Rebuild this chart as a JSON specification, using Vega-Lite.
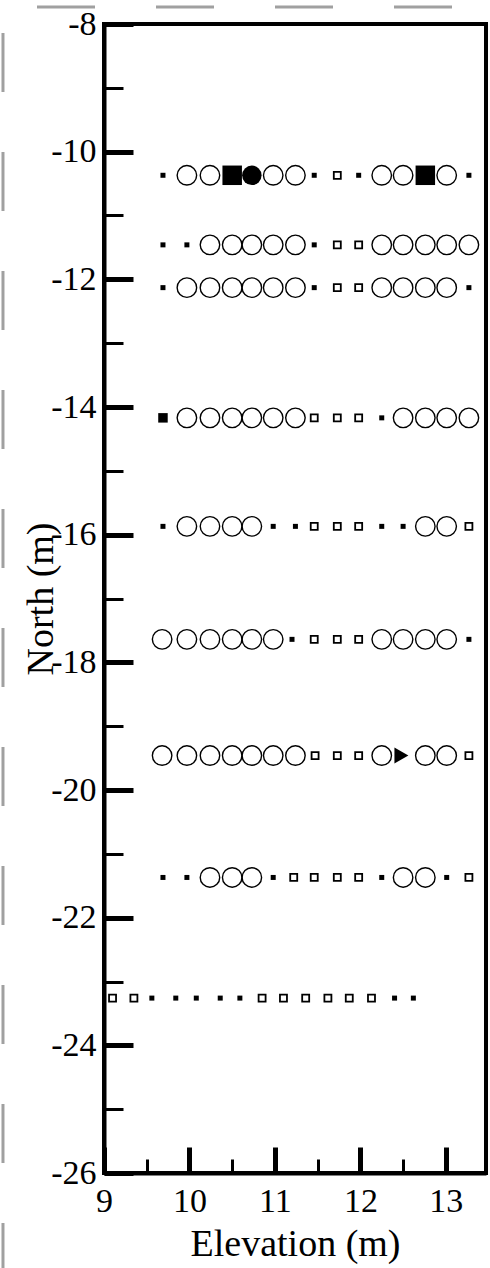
{
  "$schema": "https://vega.github.io/schema/vega-lite/v6.json",
  "width": 382,
  "height": 1149,
  "autosize": {"type": "none"},
  "padding": {"left": 104, "top": 24, "right": 4, "bottom": 95},
  "background": "white",
  "config": {"view": {"stroke": "black", "strokeWidth": 4}, "font": "Liberation Serif"},
  "datasets": {
    "pts": [
      {"x": 9.69, "y": -10.37, "t": "sq"}, {"x": 9.97, "y": -10.37, "t": "c"}, {"x": 10.24, "y": -10.37, "t": "c"}, {"x": 10.5, "y": -10.37, "t": "bsq"}, {"x": 10.73, "y": -10.37, "t": "fc"}, {"x": 10.98, "y": -10.37, "t": "c"}, {"x": 11.24, "y": -10.37, "t": "c"}, {"x": 11.46, "y": -10.37, "t": "sq"}, {"x": 11.73, "y": -10.37, "t": "hsq"}, {"x": 11.98, "y": -10.37, "t": "sq"}, {"x": 12.25, "y": -10.37, "t": "c"}, {"x": 12.5, "y": -10.37, "t": "c"}, {"x": 12.76, "y": -10.37, "t": "bsq"}, {"x": 13.01, "y": -10.37, "t": "c"}, {"x": 13.27, "y": -10.37, "t": "sq"},
      {"x": 9.69, "y": -11.46, "t": "sq"}, {"x": 9.97, "y": -11.46, "t": "sq"}, {"x": 10.24, "y": -11.46, "t": "c"}, {"x": 10.5, "y": -11.46, "t": "c"}, {"x": 10.73, "y": -11.46, "t": "c"}, {"x": 10.98, "y": -11.46, "t": "c"}, {"x": 11.24, "y": -11.46, "t": "c"}, {"x": 11.46, "y": -11.46, "t": "sq"}, {"x": 11.73, "y": -11.46, "t": "hsq"}, {"x": 11.98, "y": -11.46, "t": "hsq"}, {"x": 12.25, "y": -11.46, "t": "c"}, {"x": 12.5, "y": -11.46, "t": "c"}, {"x": 12.76, "y": -11.46, "t": "c"}, {"x": 13.01, "y": -11.46, "t": "c"}, {"x": 13.27, "y": -11.46, "t": "c"},
      {"x": 9.69, "y": -12.13, "t": "sq"}, {"x": 9.97, "y": -12.13, "t": "c"}, {"x": 10.24, "y": -12.13, "t": "c"}, {"x": 10.5, "y": -12.13, "t": "c"}, {"x": 10.73, "y": -12.13, "t": "c"}, {"x": 10.98, "y": -12.13, "t": "c"}, {"x": 11.24, "y": -12.13, "t": "c"}, {"x": 11.46, "y": -12.13, "t": "sq"}, {"x": 11.73, "y": -12.13, "t": "hsq"}, {"x": 11.98, "y": -12.13, "t": "hsq"}, {"x": 12.25, "y": -12.13, "t": "c"}, {"x": 12.5, "y": -12.13, "t": "c"}, {"x": 12.76, "y": -12.13, "t": "c"}, {"x": 13.01, "y": -12.13, "t": "c"}, {"x": 13.27, "y": -12.13, "t": "sq"},
      {"x": 9.69, "y": -14.17, "t": "msq"}, {"x": 9.97, "y": -14.17, "t": "c"}, {"x": 10.24, "y": -14.17, "t": "c"}, {"x": 10.5, "y": -14.17, "t": "c"}, {"x": 10.73, "y": -14.17, "t": "c"}, {"x": 10.98, "y": -14.17, "t": "c"}, {"x": 11.24, "y": -14.17, "t": "c"}, {"x": 11.46, "y": -14.17, "t": "hsq"}, {"x": 11.73, "y": -14.17, "t": "hsq"}, {"x": 11.98, "y": -14.17, "t": "hsq"}, {"x": 12.25, "y": -14.17, "t": "sq"}, {"x": 12.5, "y": -14.17, "t": "c"}, {"x": 12.76, "y": -14.17, "t": "c"}, {"x": 13.01, "y": -14.17, "t": "c"}, {"x": 13.27, "y": -14.17, "t": "c"},
      {"x": 9.69, "y": -15.87, "t": "sq"}, {"x": 9.97, "y": -15.87, "t": "c"}, {"x": 10.24, "y": -15.87, "t": "c"}, {"x": 10.5, "y": -15.87, "t": "c"}, {"x": 10.73, "y": -15.87, "t": "c"}, {"x": 10.98, "y": -15.87, "t": "sq"}, {"x": 11.24, "y": -15.87, "t": "sq"}, {"x": 11.46, "y": -15.87, "t": "hsq"}, {"x": 11.73, "y": -15.87, "t": "hsq"}, {"x": 11.98, "y": -15.87, "t": "hsq"}, {"x": 12.25, "y": -15.87, "t": "sq"}, {"x": 12.5, "y": -15.87, "t": "sq"}, {"x": 12.76, "y": -15.87, "t": "c"}, {"x": 13.01, "y": -15.87, "t": "c"}, {"x": 13.27, "y": -15.87, "t": "hsq"},
      {"x": 9.68, "y": -17.64, "t": "c"}, {"x": 9.97, "y": -17.64, "t": "c"}, {"x": 10.24, "y": -17.64, "t": "c"}, {"x": 10.5, "y": -17.64, "t": "c"}, {"x": 10.73, "y": -17.64, "t": "c"}, {"x": 10.98, "y": -17.64, "t": "c"}, {"x": 11.2, "y": -17.64, "t": "sq"}, {"x": 11.46, "y": -17.64, "t": "hsq"}, {"x": 11.73, "y": -17.64, "t": "hsq"}, {"x": 11.98, "y": -17.64, "t": "hsq"}, {"x": 12.25, "y": -17.64, "t": "c"}, {"x": 12.5, "y": -17.64, "t": "c"}, {"x": 12.76, "y": -17.64, "t": "c"}, {"x": 13.01, "y": -17.64, "t": "c"}, {"x": 13.27, "y": -17.64, "t": "sq"},
      {"x": 9.68, "y": -19.46, "t": "c"}, {"x": 9.97, "y": -19.46, "t": "c"}, {"x": 10.24, "y": -19.46, "t": "c"}, {"x": 10.5, "y": -19.46, "t": "c"}, {"x": 10.73, "y": -19.46, "t": "c"}, {"x": 10.98, "y": -19.46, "t": "c"}, {"x": 11.24, "y": -19.46, "t": "c"}, {"x": 11.47, "y": -19.46, "t": "hsq"}, {"x": 11.73, "y": -19.46, "t": "hsq"}, {"x": 11.98, "y": -19.46, "t": "hsq"}, {"x": 12.25, "y": -19.46, "t": "c"}, {"x": 12.48, "y": -19.46, "t": "tri"}, {"x": 12.76, "y": -19.46, "t": "c"}, {"x": 13.01, "y": -19.46, "t": "c"}, {"x": 13.27, "y": -19.46, "t": "hsq"},
      {"x": 9.69, "y": -21.37, "t": "sq"}, {"x": 9.97, "y": -21.37, "t": "sq"}, {"x": 10.24, "y": -21.37, "t": "c"}, {"x": 10.5, "y": -21.37, "t": "c"}, {"x": 10.73, "y": -21.37, "t": "c"}, {"x": 10.98, "y": -21.37, "t": "sq"}, {"x": 11.22, "y": -21.37, "t": "hsq"}, {"x": 11.46, "y": -21.37, "t": "hsq"}, {"x": 11.73, "y": -21.37, "t": "hsq"}, {"x": 11.98, "y": -21.37, "t": "hsq"}, {"x": 12.25, "y": -21.37, "t": "sq"}, {"x": 12.5, "y": -21.37, "t": "c"}, {"x": 12.76, "y": -21.37, "t": "c"}, {"x": 13.01, "y": -21.37, "t": "sq"}, {"x": 13.27, "y": -21.37, "t": "hsq"},
      {"x": 9.1, "y": -23.26, "t": "hsq"}, {"x": 9.35, "y": -23.26, "t": "hsq"}, {"x": 9.56, "y": -23.26, "t": "sq"}, {"x": 9.84, "y": -23.26, "t": "sq"}, {"x": 10.08, "y": -23.26, "t": "sq"}, {"x": 10.36, "y": -23.26, "t": "sq"}, {"x": 10.59, "y": -23.26, "t": "sq"}, {"x": 10.85, "y": -23.26, "t": "hsq"}, {"x": 11.1, "y": -23.26, "t": "hsq"}, {"x": 11.36, "y": -23.26, "t": "hsq"}, {"x": 11.62, "y": -23.26, "t": "hsq"}, {"x": 11.87, "y": -23.26, "t": "hsq"}, {"x": 12.13, "y": -23.26, "t": "hsq"}, {"x": 12.4, "y": -23.26, "t": "sq"}, {"x": 12.62, "y": -23.26, "t": "sq"}
    ]
  },
  "resolve": {"scale": {"x": "shared", "y": "shared"}, "axis": {"x": "independent", "y": "independent"}},
  "layer": [
    {
      "data": {"values": [{}]},
      "mark": {"type": "rule", "stroke": "#a0a0a0", "strokeWidth": 3, "strokeDash": [58, 61], "opacity": 1},
      "encoding": {
        "x": {"datum": 8.216, "type": "quantitative", "scale": {"domain": [9, 13.47], "nice": false, "zero": false},
          "axis": {"orient": "bottom", "values": [9.5, 10.5, 11.5, 12.5], "tickSize": -14, "tickWidth": 3, "tickColor": "black", "labels": false, "domain": false, "grid": false, "title": null}},
        "x2": {"datum": 13.58},
        "y": {"datum": -7.734, "type": "quantitative", "scale": {"domain": [-26, -8], "nice": false, "zero": false}, "axis": null}
      }
    },
    {
      "data": {"values": [{}]},
      "mark": {"type": "rule", "stroke": "#a0a0a0", "strokeWidth": 3, "strokeDash": [59, 60], "opacity": 1},
      "encoding": {
        "x": {"datum": 7.818, "type": "quantitative", "axis": null},
        "y": {"datum": -8.141, "type": "quantitative",
          "axis": {"orient": "left", "values": [-9, -11, -13, -15, -17, -19, -21, -23, -25], "tickSize": -19, "tickWidth": 3, "tickColor": "black", "labels": false, "domain": false, "grid": false, "title": null}},
        "y2": {"datum": -27.6}
      }
    },
    {
      "data": {"name": "pts"},
      "mark": {"type": "point", "filled": true, "opacity": 1, "stroke": "black"},
      "encoding": {
        "x": {"field": "x", "type": "quantitative", "scale": {"domain": [9, 13.47], "nice": false, "zero": false},
          "axis": {"orient": "bottom", "values": [9, 10, 11, 12, 13], "tickSize": -26, "tickWidth": 5, "tickColor": "black", "domainColor": "black", "domainWidth": 4, "labelFont": "Liberation Serif", "labelFontSize": 34, "labelColor": "black", "labelPadding": 37, "labelFlush": false, "labelOverlap": false, "labelBound": false, "title": "Elevation (m)", "titleFont": "Liberation Serif", "titleFontSize": 38, "titleFontWeight": "normal", "titleColor": "black", "titlePadding": 7, "grid": false}},
        "y": {"field": "y", "type": "quantitative", "scale": {"domain": [-26, -8], "nice": false, "zero": false},
          "axis": {"orient": "left", "values": [-8, -10, -12, -14, -16, -18, -20, -22, -24, -26], "tickSize": -29, "tickWidth": 5, "tickColor": "black", "domainColor": "black", "domainWidth": 4, "labelFont": "Liberation Serif", "labelFontSize": 34, "labelColor": "black", "labelPadding": 37, "labelExpr": "datum.value < 0 ? '-' + abs(datum.value) : '' + datum.value", "labelOverlap": false, "labelBound": false, "title": "North (m)", "titleFont": "Liberation Serif", "titleFontSize": 38, "titleFontWeight": "normal", "titleColor": "black", "titlePadding": -10, "grid": false}},
        "shape": {"field": "t", "type": "nominal", "scale": {"domain": ["c", "fc", "bsq", "sq", "msq", "hsq", "tri"], "range": ["circle", "circle", "square", "square", "square", "square", "triangle-right"]}, "legend": null},
        "size": {"field": "t", "type": "nominal", "scale": {"type": "ordinal", "domain": ["c", "fc", "bsq", "sq", "msq", "hsq", "tri"], "range": [380, 380, 380, 25, 90, 49, 260]}, "legend": null},
        "fill": {"field": "t", "type": "nominal", "scale": {"domain": ["c", "fc", "bsq", "sq", "msq", "hsq", "tri"], "range": ["transparent", "black", "black", "black", "black", "white", "black"]}, "legend": null},
        "strokeWidth": {"field": "t", "type": "nominal", "scale": {"type": "ordinal", "domain": ["c", "fc", "bsq", "sq", "msq", "hsq", "tri"], "range": [1.4, 0, 0, 0, 0, 1.8, 0]}, "legend": null}
      }
    }
  ]
}
